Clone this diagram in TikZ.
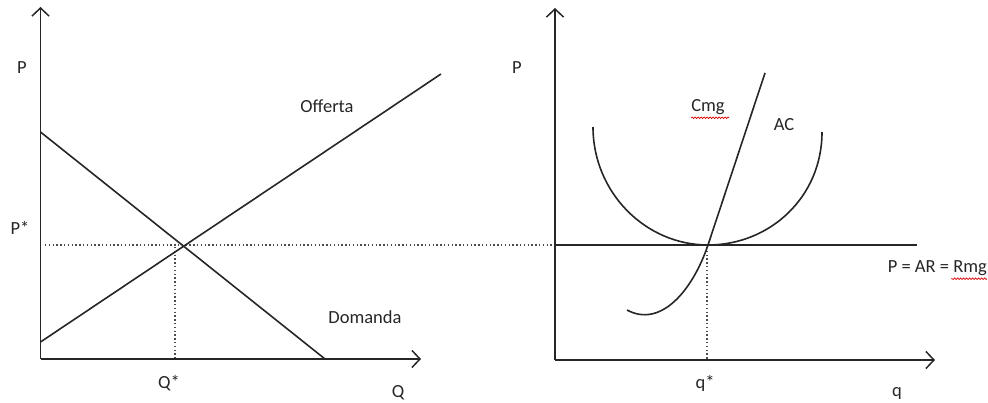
\documentclass[tikz,border=0pt]{standalone}
\usepackage{fontspec}
\setmainfont{Carlito}
\usetikzlibrary{arrows.meta,decorations.pathmorphing}
\tikzset{
  ln/.style={line width=1.6pt, draw=black!85},
  ax/.style={ln, -{Straight Barb[length=8pt,width=17pt,line width=1.5pt]}},
  dot/.style={line width=1.2pt, draw=black!70, dash pattern=on 1.4pt off 2.4pt},
  lbl/.style={font=\fontsize{18.5}{21}\selectfont, text=black!85, inner sep=0pt},
  spell/.style={draw=red!85!black, line width=0.7pt, decorate, decoration={snake, amplitude=0.8pt, segment length=3pt}}
}
\begin{document}
\begin{tikzpicture}[x=1pt,y=-1pt]
\useasboundingbox (0,0) rectangle (988,403);
% ---------- left panel ----------
\coordinate (O1) at (40.5,359);
\coordinate (Ytop1) at (40.5,7);
\coordinate (Xend1) at (421,359);
\coordinate (Dtop) at (40.5,132);
\coordinate (Dbot) at (325,359);
\coordinate (Sbot) at (40.5,342);
\coordinate (Stop) at (441,74);
\coordinate (Pleft) at (45,245);
\coordinate (Pright) at (555,245);
\coordinate (Qs) at (175,359);
\coordinate (Qtop) at (175,247);
\draw[dot] (Pleft) -- (Pright);
\draw[dot] (Qtop) -- (Qs);
\draw[ax] (O1) -- (Ytop1);
\draw[ax] (O1) -- (Xend1);
\draw[ln] (Dtop) -- (Dbot);
\draw[ln] (Sbot) -- (Stop);
\node[lbl] (P1) at (22,68) {P};
\node[lbl] (Pst) at (20,228) {P*};
\node[lbl] (off) at (327,106) {Offerta};
\node[lbl] (dom) at (365,317) {Domanda};
\node[lbl] (Qst) at (169,383) {Q*};
\node[lbl] (Q) at (398,393) {Q};
% ---------- right panel ----------
\coordinate (O2) at (555,360);
\coordinate (Ytop2) at (555,8);
\coordinate (Xend2) at (935,360);
\coordinate (Hend) at (917,245);
\coordinate (Hstart) at (555,245);
\coordinate (E2) at (708,245);
\coordinate (qs) at (707,360);
\coordinate (qtop) at (707,247);
\draw[ax] (O2) -- (Ytop2);
\draw[ax] (O2) -- (Xend2);
\draw[ln] (Hstart) -- (Hend);
\draw[dot] (qtop) -- (qs);
% AC
\draw[ln] (593,127) .. controls (593,192) and (645,245) .. (E2)
          .. controls (770,245) and (822,197) .. (822,132);
% Cmg
\draw[ln] (627,310) .. controls (660,328) and (692,292) .. (E2) -- (765,73);
\node[lbl] (P2) at (517,68) {P};
\node[lbl] (cmg) at (708,107) {Cmg};
\node[lbl] (ac) at (784,125) {AC};
\node[lbl, anchor=east] (par) at (987,268) {P = AR = Rmg};
\node[lbl] (qst) at (705,383) {q*};
\node[lbl] (q) at (897,393) {q};
\draw[spell] (cmg.south west)++(0,3) -- ++(38,0);
\draw[spell] (par.south east)++(0,3) -- ++(-36,0);
\end{tikzpicture}
\end{document}
